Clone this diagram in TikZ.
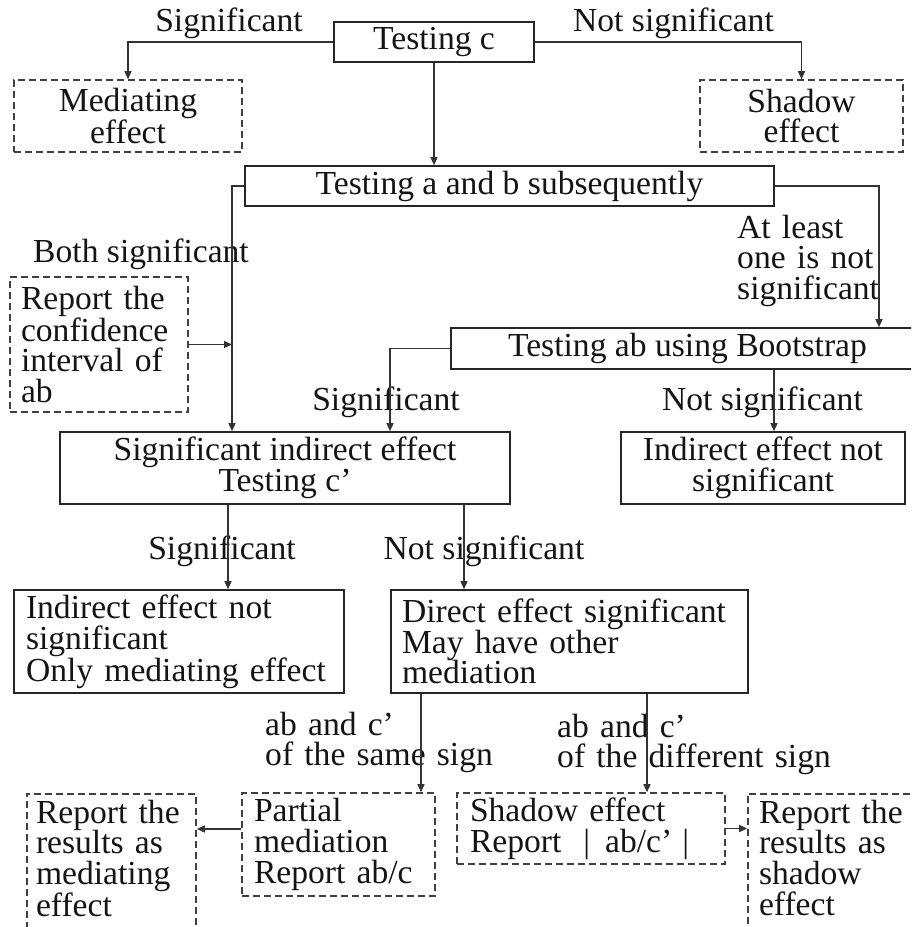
\documentclass[tikz,border=0pt]{standalone}
\usepackage{fontspec}
\setmainfont{Liberation Serif}
\usetikzlibrary{arrows.meta}
\begin{document}
\begin{tikzpicture}[x=1pt,y=-1pt,
  txt/.style={font=\fontsize{33.6}{30.7}\selectfont, text=black!92},
  box/.style={txt, draw=black!85, line width=1.6pt, inner sep=3pt, align=center},
  dbox/.style={box, draw=black!75, dash pattern=on 7pt off 4pt},
  lft/.style={align=left},
  lbl/.style={txt, inner sep=0pt},
  arr/.style={draw=black!80, line width=1.4pt, -{Triangle[length=8pt,width=7pt]}}
]
\useasboundingbox (0,0) rectangle (911,927);
\clip (0,0) rectangle (911,927);

% column / row guides for the connectors
\coordinate (colA) at (232,0);
\coordinate (colB) at (879,0);
\coordinate (colC) at (390,0);
\coordinate (colD) at (774,0);
\coordinate (colE) at (228,0);
\coordinate (colF) at (464,0);
\coordinate (colG) at (421,0);
\coordinate (colH) at (647,0);
\coordinate (rowI) at (0,829);

% boxes
\node[box, minimum width=200pt, minimum height=40pt] (tc) at (434,42) {Testing c};
\node[dbox, minimum width=228pt, minimum height=72pt] (med) at (128,116) {Mediating\\effect};
\node[dbox, minimum width=203pt, minimum height=72pt] (shd) at (801.5,116) {Shadow\\effect};
\node[box, minimum width=529pt, minimum height=40pt] (tab) at (509.5,186) {Testing a and b subsequently};
\node[dbox, lft, text width=156pt, inner xsep=11pt, minimum height=135pt] (rci) at (99,344.5) {Report the\\confidence\\interval of\\ab};
\node[box, minimum width=473pt, minimum height=41pt] (tboot) at (687.5,348.5) {Testing ab using Bootstrap};
\node[box, minimum width=450pt, minimum height=72pt] (sie) at (285,468) {Significant indirect effect\\Testing c’};
\node[box, minimum width=284pt, minimum height=72pt] (ins) at (763,468) {Indirect effect not\\significant};
\node[box, lft, text width=306pt, inner xsep=12pt, minimum height=103pt] (ome) at (179,641.5) {Indirect effect not\\significant\\Only mediating effect};
\node[box, lft, text width=335pt, inner xsep=11pt, minimum height=103pt] (des) at (569.5,641.5) {Direct effect significant\\May have other\\mediation};
\node[dbox, lft, text width=151pt, inner xsep=9pt, inner ysep=6pt, text depth=125pt, anchor=north] (rme) at (111.5,793) {Report the\\results as\\mediating\\effect};
\node[dbox, lft, text width=169pt, inner xsep=12pt, minimum height=103pt] (pm) at (338.5,844.5) {Partial\\mediation\\Report ab/c};
\node[dbox, lft, text width=242pt, inner xsep=13pt, minimum height=71pt] (sr) at (591,828.5) {Shadow effect\\Report\hspace{22pt}|\hspace{15pt}ab/c’\hspace{10pt}|};
\node[dbox, lft, text width=155pt, inner xsep=11pt, inner ysep=6pt, text depth=125pt, anchor=north] (rse) at (836.5,793) {Report the\\results as\\shadow\\effect};

% branch labels
\node[lbl, anchor=base] (l1) at (229,31) {Significant};
\node[lbl, anchor=base] (l2) at (673.5,31) {Not significant};
\node[lbl, anchor=base] (l3) at (141,262) {Both significant};
\node[lbl, lft, text width=150pt, anchor=base west] (l4) at (737,238) {At least\\one is not\\significant};
\node[lbl, anchor=base] (l5) at (386,410) {Significant};
\node[lbl, anchor=base] (l6) at (762.5,410) {Not significant};
\node[lbl, anchor=base] (l7) at (222,559) {Significant};
\node[lbl, anchor=base] (l8) at (484,559) {Not significant};
\node[lbl, lft, text width=230pt, anchor=base west] (l9) at (265,735) {ab and c’\\of the same sign};
\node[lbl, lft, text width=280pt, anchor=base west] (l10) at (557,737) {ab and c’\\of the different sign};

% connectors
\draw[arr] (tc.west) -| (med.north);
\draw[arr] (tc.east) -| (shd.north);
\draw[arr] (tc.south) -- (tc.south |- tab.north);
\draw[arr] (tab.west) -| (sie.north -| colA);
\draw[arr] (rci.east) -- (rci.east -| colA);
\draw[arr] (tab.east) -| (tboot.north -| colB);
\draw[arr] (tboot.west) -| (sie.north -| colC);
\draw[arr] (tboot.south -| colD) -- (ins.north -| colD);
\draw[arr] (sie.south -| colE) -- (ome.north -| colE);
\draw[arr] (sie.south -| colF) -- (des.north -| colF);
\draw[arr] (des.south -| colG) -- (pm.north -| colG);
\draw[arr] (des.south -| colH) -- (sr.north -| colH);
\draw[arr] (pm.west |- rowI) -- (rme.east |- rowI);
\draw[arr] (sr.east) -- (rse.west |- sr.east);
\end{tikzpicture}
\end{document}
